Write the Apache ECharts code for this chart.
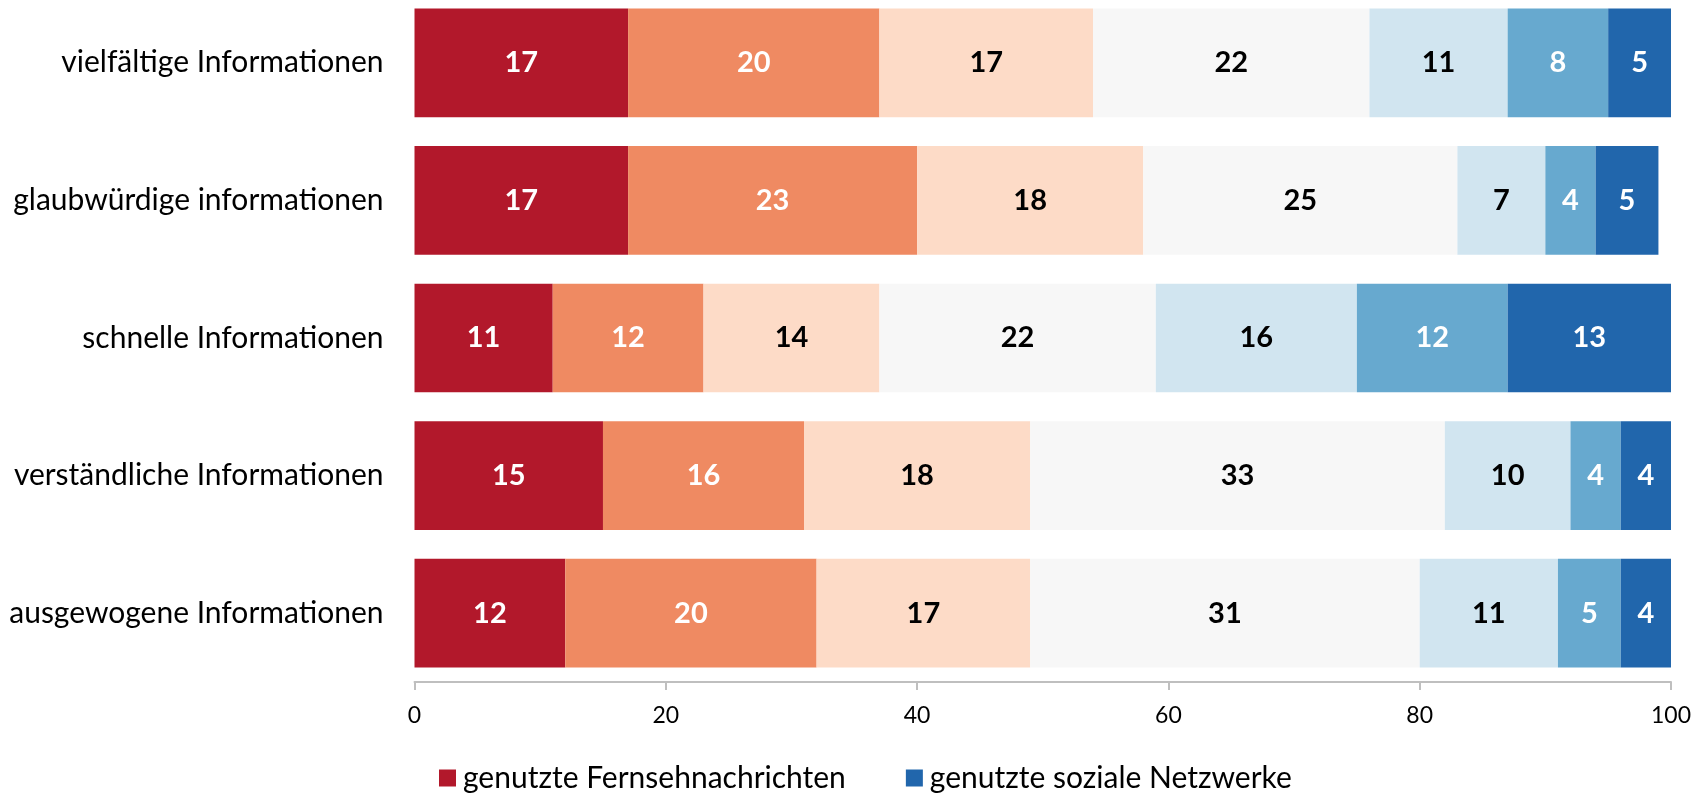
<!DOCTYPE html>
<html><head><meta charset="utf-8">
<script src="https://cdn.jsdelivr.net/npm/echarts@6/dist/echarts.min.js"></script>
<style>html,body{margin:0;padding:0;background:#fff}#c{width:1707px;height:793px}</style>
</head><body><div id="c"></div>
<script>
const categories = ["vielfältige Informationen","glaubwürdige informationen","schnelle Informationen","verständliche Informationen","ausgewogene Informationen"];
const s1 = [17,17,11,15,12];
const s2 = [20,23,12,16,20];
const s3 = [17,18,14,18,17];
const s4 = [22,25,22,33,31];
const s5 = [11,7,16,10,11];
const s6 = [8,4,12,4,5];
const s7 = [5,5,13,4,4];
const seriesNames = ["genutzte Fernsehnachrichten","Stufe 2","Stufe 3","Stufe 4","Stufe 5","Stufe 6","genutzte soziale Netzwerke"];
const xTicks = [0,20,40,60,80,100];

const colors = ["#B2182B","#EF8A62","#FDDBC7","#F7F7F7","#D1E5F0","#67A9CF","#2166AC"];
const labelColors = ["#fff","#fff","#000","#000","#000","#fff","#fff"];
const font = "Lato, 'Open Sans', sans-serif";
const all = [s1,s2,s3,s4,s5,s6,s7];
const chart = echarts.init(document.getElementById('c'));
chart.setOption({
  animation:false,
  grid:{left:414.5,right:36,top:-6,bottom:111,containLabel:false,outerBoundsMode:'none'},
  legend:{
    data:[seriesNames[0],seriesNames[6]],
    top:758,left:434,itemWidth:17,itemHeight:17,itemGap:60,
    icon:'rect',
    textStyle:{fontFamily:font,fontSize:30,color:'#000',padding:[0,0,0,2]}
  },
  xAxis:{type:'value',min:0,max:100,interval:20,
    axisLine:{show:true,lineStyle:{color:'#BFBFBF',width:2}},
    axisTick:{show:true,length:8,lineStyle:{color:'#BFBFBF',width:2}},
    splitLine:{show:false},
    axisLabel:{fontFamily:font,fontSize:23,color:'#000',margin:22,
      formatter:v=>xTicks.includes(v)?String(v):''}
  },
  yAxis:{type:'category',data:categories,inverse:true,
    axisLine:{show:false},axisTick:{show:false},
    axisLabel:{fontFamily:font,fontSize:30,color:'#000',margin:31}
  },
  series: all.map((d,i)=>({
    name:seriesNames[i],type:'bar',stack:'t',data:d,barCategoryGap:'21%',
    itemStyle:{color:colors[i]},
    label:{show:true,position:'inside',fontFamily:font,fontSize:29,fontWeight:'bold',color:labelColors[i]}
  }))
});
</script></body></html>
